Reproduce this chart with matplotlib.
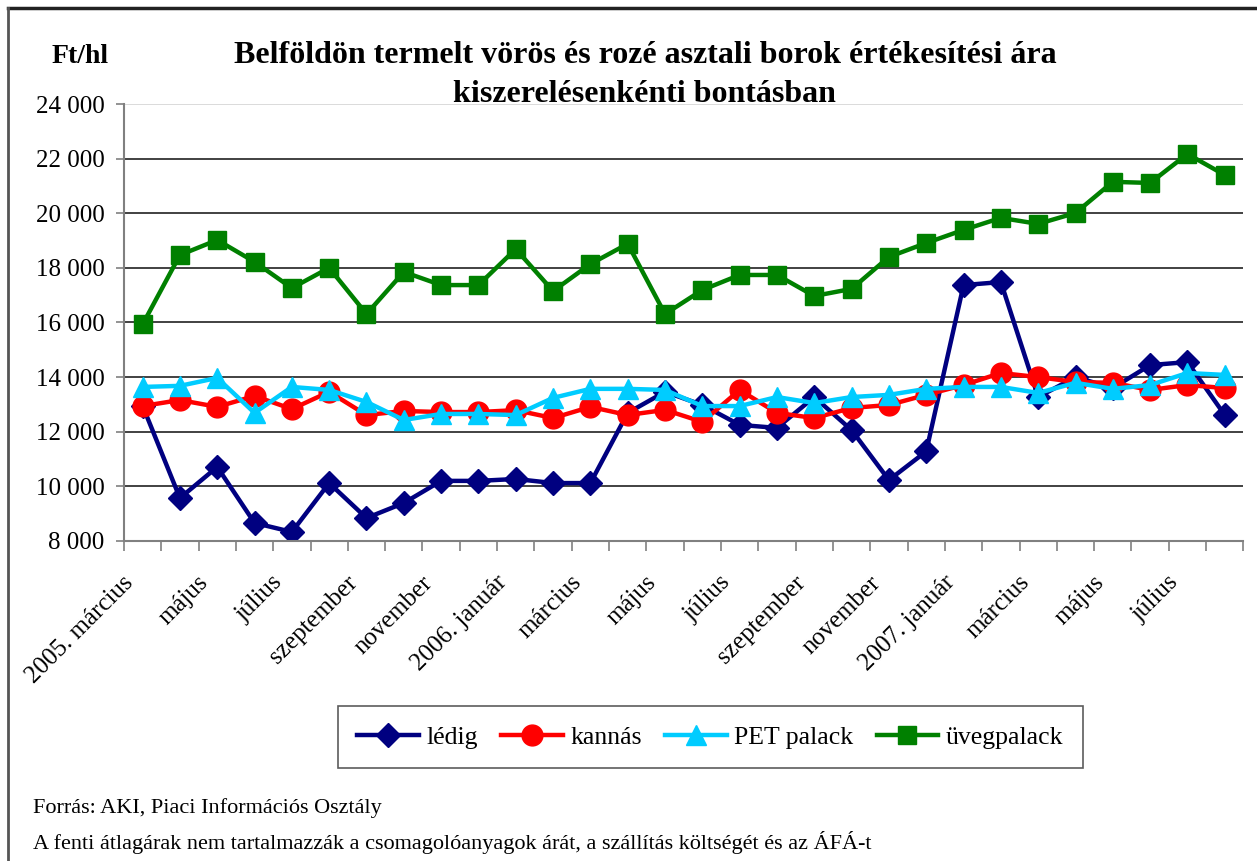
import matplotlib
matplotlib.use('Agg')
import matplotlib.pyplot as plt
from matplotlib.lines import Line2D
from matplotlib.ticker import FuncFormatter
from matplotlib.transforms import ScaledTranslation

# monthly data, 2005 March .. 2007 August (Ft/hl)
months = ['2005. március', 'április', 'május', 'június', 'július', 'augusztus',
          'szeptember', 'október', 'november', 'december',
          '2006. január', 'február', 'március', 'április', 'május', 'június',
          'július', 'augusztus', 'szeptember', 'október', 'november', 'december',
          '2007. január', 'február', 'március', 'április', 'május', 'június',
          'július', 'augusztus']

ledig = [12950, 9570, 10710, 8660, 8330, 10120, 8840, 9390, 10200, 10200,
         10270, 10120, 10120, 12690, 13460, 12980, 12250, 12140, 13270, 12060,
         10230, 11280, 17370, 17480, 13270, 14000, 13600, 14440, 14550, 12610]
kannas = [12940, 13160, 12910, 13310, 12830, 13460, 12610, 12760, 12720, 12720,
          12790, 12500, 12910, 12610, 12800, 12360, 13530, 12690, 12500, 12870,
          12980, 13350, 13710, 14150, 14000, 13820, 13790, 13530, 13710, 13600]
pet = [13640, 13680, 13970, 12690, 13640, 13530, 13090, 12430, 12650, 12650,
       12610, 13240, 13570, 13570, 13530, 12940, 12940, 13270, 13050, 13270,
       13350, 13570, 13640, 13640, 13420, 13790, 13570, 13710, 14150, 14080]
uveg = [15930, 18470, 19020, 18220, 17260, 18000, 16310, 17850, 17370, 17370,
        18690, 17150, 18140, 18880, 16310, 17190, 17740, 17740, 16970, 17230,
        18400, 18910, 19390, 19830, 19610, 20010, 21150, 21110, 22170, 21400]

plt.rcParams['font.family'] = ['Liberation Serif', 'DejaVu Serif']

fig = plt.figure(figsize=(12.57, 8.61), dpi=100)
ax = fig.add_axes([0.0986, 0.3717, 0.8906, 0.5075])

x = list(range(len(months)))
ax.plot(x, ledig, color='#000080', lw=3.2, marker='D', ms=12, label='lédig')
ax.plot(x, kannas, color='#FF0000', lw=3.2, marker='o', ms=15, label='kannás')
ax.plot(x, pet, color='#00CCFF', lw=3.2, marker='^', ms=15, label='PET palack')
ax.plot(x, uveg, color='#008000', lw=3.2, marker='s', ms=13, label='üvegpalack')

ax.set_xlim(-0.5, len(months) - 0.5)
ax.set_ylim(8000, 24000)
ax.set_yticks(range(8000, 24001, 2000))
ax.yaxis.set_major_formatter(FuncFormatter(lambda v, p: f'{int(v):,}'.replace(',', ' ')))
ax.tick_params(axis='y', labelsize=18, length=6, color='#808080', width=1.2, pad=8)
ax.grid(axis='y', color='#333333', lw=1.3)
ax.get_ygridlines()[-1].set_color('#d8d8d8')
ax.set_axisbelow(True)

# tick marks between categories, labels on every second month
ax.set_xticks([i - 0.5 for i in range(len(months) + 1)])
ax.set_xticklabels([])
ax.tick_params(axis='x', which='major', length=7, color='#808080', width=1.2)
ax.set_xticks(x[::2], minor=True)
ax.set_xticklabels(months[::2], minor=True, rotation=45, ha='right', va='top',
                   rotation_mode='anchor', fontsize=18)
ax.tick_params(axis='x', which='minor', length=0, pad=22)
shift = ScaledTranslation(-0.2, 0, fig.dpi_scale_trans)
for lab in ax.get_xticklabels(minor=True):
    lab.set_transform(lab.get_transform() + shift)

for s in ('top', 'right'):
    ax.spines[s].set_visible(False)
for s in ('left', 'bottom'):
    ax.spines[s].set_color('#808080')
    ax.spines[s].set_linewidth(1.5)

fig.text(0.513, 0.913, 'Belföldön termelt vörös és rozé asztali borok értékesítési ára\n'
         'kiszerelésenkénti bontásban', ha='center', va='center',
         fontsize=23, fontweight='bold', linespacing=1.45)
fig.text(0.0636, 0.934, 'Ft/hl', ha='center', va='center', fontsize=20, fontweight='bold')

leg = fig.legend(loc='center', bbox_to_anchor=(0.565, 0.144), ncol=4, fontsize=18.5,
                 frameon=True, fancybox=False, edgecolor='#333333',
                 handlelength=2.4, columnspacing=0.9, handletextpad=0.3,
                 borderpad=0.75)
leg.get_frame().set_linewidth(1.2)

fig.text(0.026, 0.061, 'Forrás: AKI, Piaci Információs Osztály', fontsize=16, va='center')
fig.text(0.026, 0.021, 'A fenti átlagárak nem tartalmazzák a csomagolóanyagok árát, '
         'a szállítás költségét és az ÁFÁ-t', fontsize=16, va='center')

# outer frame (top and left edges visible)
fig.add_artist(Line2D([0.006, 1.0], [0.991, 0.991], color='#222222', lw=2.5))
fig.add_artist(Line2D([0.006, 0.006], [0.0, 0.991], color='#555555', lw=2))

fig.savefig('out.png', dpi=100)
